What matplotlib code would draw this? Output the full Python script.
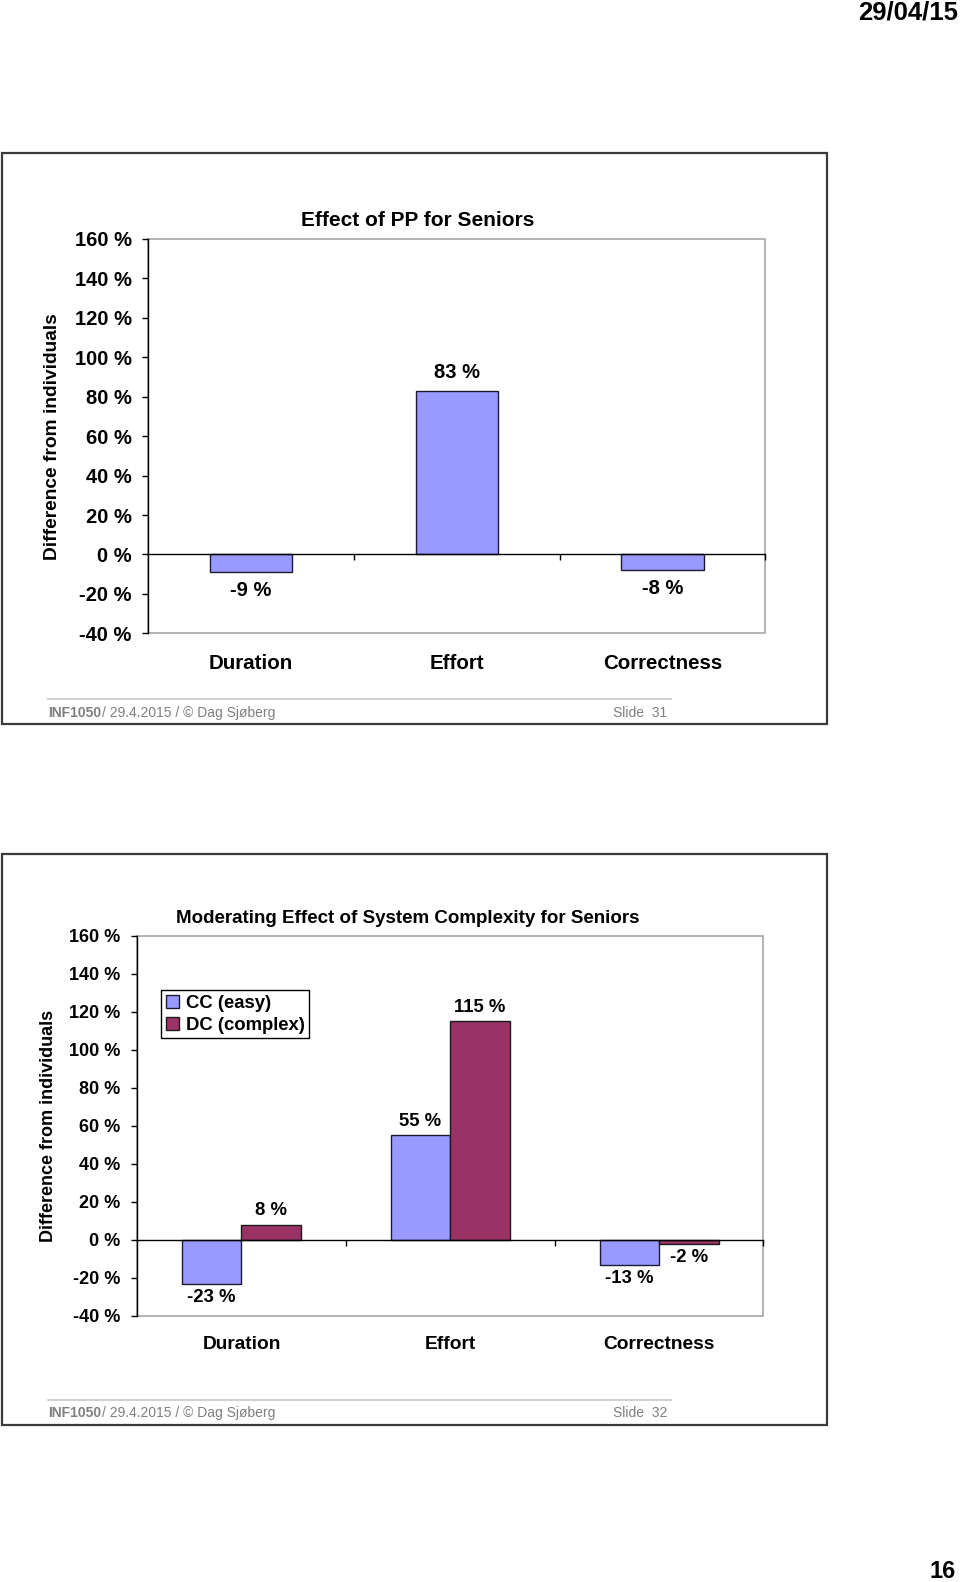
import matplotlib
matplotlib.use("Agg")
import matplotlib.pyplot as plt
from matplotlib.patches import Rectangle
from matplotlib.lines import Line2D
from matplotlib.ticker import FuncFormatter, MultipleLocator
from matplotlib.transforms import blended_transform_factory

plt.rcParams['font.family'] = ['Liberation Sans', 'DejaVu Sans']

# ---------------- data ----------------
categories = ["Duration", "Effort", "Correctness"]
pp_values = [-9, 83, -8]
cc_values = [-23, 55, -13]
dc_values = [8, 115, -2]
series_names = ["CC (easy)", "DC (complex)"]
title1 = "Effect of PP for Seniors"
title2 = "Moderating Effect of System Complexity for Seniors"
ylabel = "Difference from individuals"
footer_left_bold = "INF1050"
footer_left = "/ 29.4.2015 / \u00a9 Dag Sj\u00f8berg"
slide_labels = ["Slide  31", "Slide  32"]
date_text = "29/04/15"
page_text = "16"

W, H = 960, 1582
fig = plt.figure(figsize=(W / 100, H / 100), dpi=100)


def fx(x):
    return x / W


def fy(y):
    return 1 - y / H


def px_axes(x0, y0, x1, y1):
    return fig.add_axes([fx(x0), fy(y1), (x1 - x0) / W, (y1 - y0) / H])


CC_COLOR = "#9999FF"
DC_COLOR = "#993366"
GRID_GRAY = "#A6A6A6"
pct = FuncFormatter(lambda v, p: f"{int(round(v))} %")


def style_axes(ax, tick_fs, cat_fs, ylab_fs, ylab_x, cat_off):
    ax.set_xlim(-0.5, len(categories) - 0.5)
    ax.set_ylim(-40, 160)
    ax.yaxis.set_major_locator(MultipleLocator(20))
    ax.yaxis.set_major_formatter(pct)
    for s in ["top", "right"]:
        ax.spines[s].set_visible(False)
    ax.spines["left"].set_color("black")
    ax.spines["left"].set_linewidth(1.0)
    ax.spines["bottom"].set_position(("data", 0))
    ax.spines["bottom"].set_color("black")
    ax.spines["bottom"].set_linewidth(1.0)
    ax.add_patch(Rectangle((0, 0), 1, 1, transform=ax.transAxes, fill=False,
                           edgecolor=GRID_GRAY, linewidth=1.2, clip_on=False, zorder=0))
    ax.set_xticks([i + 0.5 for i in range(len(categories))])
    ax.set_xticklabels([])
    ax.tick_params(axis="x", direction="out", length=4, width=1, color="black")
    ax.tick_params(axis="y", direction="out", length=4, width=1, pad=8,
                   labelsize=tick_fs, color="black")
    for lab in ax.get_yticklabels():
        lab.set_fontweight("bold")
    trans = blended_transform_factory(ax.transData, ax.transAxes)
    for i, c in enumerate(categories):
        ax.text(i, cat_off, c, transform=trans, ha="center", va="center",
                fontsize=cat_fs, fontweight="bold")
    ax.set_ylabel(ylabel, fontsize=ylab_fs, fontweight="bold")
    ax.yaxis.set_label_coords(ylab_x, 0.5)


def footer(y_line, y_text, slide):
    fig.add_artist(Line2D([fx(48.4), fx(670.6)], [fy(y_line), fy(y_line)],
                          transform=fig.transFigure, color="#C8C8C8", linewidth=1.2))
    t1 = fig.text(fx(48.4), fy(y_text), footer_left_bold, fontsize=10,
                  fontweight="bold", color="#7F7F7F", ha="left", va="center")
    plt.annotate(footer_left, xy=(1, 0.5), xycoords=t1, xytext=(0, 0),
                 textcoords="offset points", fontsize=10, color="#7F7F7F",
                 ha="left", va="center", annotation_clip=False)
    fig.text(fx(667.5), fy(y_text), slide, fontsize=10, color="#7F7F7F",
             ha="right", va="center")


# slide frames
for (y0, y1) in [(153.3, 724.0), (854.0, 1425.0)]:
    fig.add_artist(Rectangle((fx(2), fy(y1)), (827 - 2) / W, (y1 - y0) / H,
                             transform=fig.transFigure, fill=False,
                             edgecolor="#3A3A3A", linewidth=1.6))

# ---------------- chart 1 ----------------
ax1 = px_axes(148.2, 239.0, 765.4, 633.3)
x = list(range(len(categories)))
bars1 = ax1.bar(x, pp_values, width=0.4, color=CC_COLOR, edgecolor="#1A1A33",
                linewidth=1.0, zorder=2)
ax1.bar_label(bars1, labels=[f"{v} %" for v in pp_values], padding=6,
              fontsize=14.5, fontweight="bold")
style_axes(ax1, tick_fs=14.5, cat_fs=14.8, ylab_fs=13.8, ylab_x=-0.142, cat_off=-0.077)
fig.text(fx(417.5), fy(221.0), title1, fontsize=15, fontweight="bold",
         ha="center", va="center")
footer(698.8, 713.0, slide_labels[0])

# ---------------- chart 2 ----------------
ax2 = px_axes(137.1, 935.8, 763.4, 1316.0)
bw = 0.285
b_cc = ax2.bar([i - bw / 2 for i in x], cc_values, width=bw, color=CC_COLOR,
               edgecolor="#1A1A33", linewidth=1.0, zorder=2, label=series_names[0])
b_dc = ax2.bar([i + bw / 2 for i in x], dc_values, width=bw, color=DC_COLOR,
               edgecolor="#1A1A1A", linewidth=1.0, zorder=2, label=series_names[1])
ax2.bar_label(b_cc, labels=[f"{v} %" for v in cc_values], padding=4,
              fontsize=13.3, fontweight="bold")
ax2.bar_label(b_dc, labels=[f"{v} %" for v in dc_values], padding=4,
              fontsize=13.3, fontweight="bold")
style_axes(ax2, tick_fs=13, cat_fs=13.8, ylab_fs=13, ylab_x=-0.128, cat_off=-0.074)
leg = ax2.legend(loc="upper left", bbox_to_anchor=(0.038, 0.857), borderaxespad=0,
                 fancybox=False, edgecolor="black", framealpha=1,
                 prop={"size": 13.3, "weight": "bold"}, handlelength=0.75,
                 handleheight=0.75, handletextpad=0.35, labelspacing=0.25,
                 borderpad=0.25)
leg.get_frame().set_linewidth(1.0)
fig.text(fx(407.4), fy(918.6), title2, fontsize=13.5, fontweight="bold",
         ha="center", va="center")
footer(1399.7, 1412.8, slide_labels[1])

# page header / number
fig.text(fx(958), fy(12.1), date_text, fontsize=18.5, fontweight="bold",
         ha="right", va="center")
fig.text(fx(956), fy(1571), page_text, fontsize=17, fontweight="bold",
         ha="right", va="center")

fig.savefig("out.png", dpi=100)
